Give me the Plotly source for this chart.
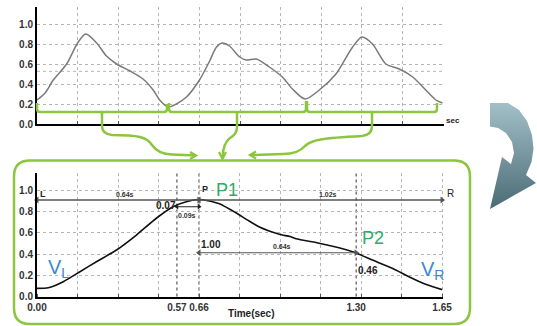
import plotly.graph_objects as go

W, H = 537, 326

# ---------------- data ----------------
# overview pulse trace (x in grid divisions, y normalised amplitude)
top_x = [0.0, 0.2, 0.4, 0.73, 1.0, 1.2, 1.47, 1.71, 1.96, 2.29, 2.61, 2.86, 3.02, 3.23,
         3.43, 3.68, 4.0, 4.25, 4.42, 4.56, 4.74, 4.99, 5.15, 5.4, 5.72, 6.04, 6.29, 6.6,
         6.95, 7.36, 7.77, 8.0, 8.26, 8.59, 8.92, 9.25, 9.57, 9.82, 9.98]
top_y = [0.24, 0.31, 0.44, 0.60, 0.81, 0.90, 0.81, 0.68, 0.60, 0.53, 0.45, 0.34, 0.24, 0.17,
         0.20, 0.27, 0.44, 0.63, 0.77, 0.81, 0.78, 0.67, 0.64, 0.65, 0.57, 0.47, 0.35, 0.25,
         0.34, 0.50, 0.77, 0.87, 0.80, 0.60, 0.55, 0.47, 0.34, 0.24, 0.21]
top_extra_grid = [0.527]

# single beat (time in seconds, normalised amplitude)
beat_t = [0.0, 0.046, 0.107, 0.175, 0.242, 0.324, 0.405, 0.486, 0.554, 0.608, 0.655, 0.675,
          0.743, 0.81, 0.858, 0.906, 0.987, 1.03, 1.055, 1.149, 1.23, 1.292, 1.366, 1.447,
          1.515, 1.583, 1.65]
beat_y = [0.077, 0.083, 0.14, 0.234, 0.328, 0.439, 0.58, 0.738, 0.847, 0.894, 0.915, 0.913,
          0.875, 0.79, 0.72, 0.655, 0.587, 0.565, 0.545, 0.502, 0.46, 0.417, 0.344, 0.266,
          0.187, 0.115, 0.065]

beat_tickvals = [0.00, 0.57, 0.66, 1.30, 1.65]
beat_ticktext = ["0.00", "0.57", "0.66", "1.30", "1.65"]
marker_times = [0.57, 0.66, 1.30]
y_tickvals = [0.0, 0.2, 0.4, 0.6, 0.8, 1.0]
y_ticktext = ["0.0", "0.2", "0.4", "0.6", "0.8", "1.0"]

t_L, t_57, t_P, t_P2, t_R = 0.0, 0.57, 0.66, 1.30, 1.65
y_LR = 0.91      # level of L-P-R measurement line
y_57 = 0.847     # level of 0.57 -> 0.66 measurement
y_P2 = 0.413     # level of P -> P2 measurement

FONT = "Arial, Liberation Sans, sans-serif"
GREEN = "#8cc63f"
GRID = "#b5b5b5"

fig = go.Figure()

def px_x(p):
    return p / W

def px_y(p):
    return 1 - p / H

axis_common = dict(showline=True, linecolor="black", linewidth=2, zeroline=False,
                   automargin=False, fixedrange=True)

fig.update_layout(
    width=W, height=H, margin=dict(l=0, r=0, t=0, b=0, pad=0),
    paper_bgcolor="white", plot_bgcolor="rgba(0,0,0,0)", showlegend=False,
    font=dict(family=FONT, color="#222"),
    xaxis=dict(domain=[px_x(37), px_x(444)], range=[0, 10.02], anchor="y",
               showgrid=True, gridcolor=GRID, griddash="dot", gridwidth=1,
               dtick=1, tick0=0, showticklabels=False, ticks="inside", ticklen=3,
               tickcolor="#555", **axis_common),
    yaxis=dict(domain=[px_y(124), px_y(7)], range=[0, 1.17], anchor="x",
               showgrid=True, gridcolor=GRID, griddash="dot", gridwidth=1,
               tickvals=y_tickvals, ticktext=y_ticktext, ticks="",
               tickfont=dict(size=10, family=FONT, color="#333", weight="bold"),
               **axis_common),
    xaxis2=dict(domain=[px_x(37), px_x(443.3)], range=[0, 1.655], anchor="y2",
                showgrid=False, tickvals=beat_tickvals, ticktext=beat_ticktext,
                ticks="", tickfont=dict(size=10, family=FONT, color="#333", weight="bold"),
                minor=dict(tick0=0, dtick=0.165, showgrid=True, gridcolor=GRID,
                           griddash="dot", gridwidth=1, ticks="inside", ticklen=3,
                           tickcolor="#555"),
                **axis_common),
    yaxis2=dict(domain=[px_y(296.5), px_y(173.3)], range=[0, 1.162], anchor="x2",
                showgrid=True, gridcolor=GRID, griddash="dot", gridwidth=1,
                tickvals=y_tickvals, ticktext=y_ticktext, ticks="",
                tickfont=dict(size=10, family=FONT, color="#333", weight="bold"),
                **axis_common),
    xaxis3=dict(domain=[0, 1], range=[0, W], anchor="y3", visible=False, fixedrange=True),
    yaxis3=dict(domain=[0, 1], range=[H, 0], anchor="x3", visible=False, fixedrange=True),
)

# ---------------- data traces ----------------
fig.add_trace(go.Scatter(x=top_x, y=top_y, mode="lines", xaxis="x", yaxis="y",
                         line=dict(color="#7a7a7a", width=1.5, shape="spline", smoothing=0.8),
                         hoverinfo="skip"))
fig.add_trace(go.Scatter(x=beat_t, y=beat_y, mode="lines", xaxis="x2", yaxis="y2",
                         line=dict(color="#111", width=1.6, shape="spline", smoothing=0.6),
                         hoverinfo="skip"))

shapes = []
for g in top_extra_grid:
    shapes.append(dict(type="line", xref="x domain", yref="y", x0=0, x1=1, y0=g, y1=g,
                       line=dict(color=GRID, width=1, dash="dot"), layer="below"))
for t in marker_times:
    shapes.append(dict(type="line", xref="x2", yref="y2 domain", x0=t, x1=t, y0=0, y1=1,
                       line=dict(color="#333", width=1, dash="dot"), layer="below"))

# measurement arrows: line with triangle heads at both ends
def meas(x0, x1, y, color="#333", width=1.2, size=6):
    fig.add_trace(go.Scatter(x=[x0, x1], y=[y, y], xaxis="x2", yaxis="y2",
                             mode="lines+markers", cliponaxis=False,
                             line=dict(color=color, width=width),
                             marker=dict(symbol=["triangle-left", "triangle-right"],
                                         size=size, color=color, line=dict(width=0)),
                             hoverinfo="skip"))

meas(t_L, t_P, y_LR, "#555", 1.5)
meas(t_P, t_R, y_LR, "#555", 1.5)
meas(t_57, t_P, y_57, "#222", 1.1, 5)
meas(t_P, t_P2, y_P2, "#555", 1.1)

# ---------------- green decoration (pixel coordinates) ----------------
def gpath(d, width=2.5):
    shapes.append(dict(type="path", xref="x3", yref="y3", path=d,
                       line=dict(color=GREEN, width=width), fillcolor="rgba(0,0,0,0)"))

gpath("M 37,103 L 37,109 Q 37,112 40,112 L 164,112 Q 167,112 167,109 L 167,104")
gpath("M 169,103 L 169,109 Q 169,112 172,112 L 303,112 Q 306,112 306,109 L 306,101")
gpath("M 307,101 L 307,109 Q 307,112 310,112 L 434,112 Q 437,112 437,109 L 437,103")
gpath("M 102,112 L 102,126 Q 102,134 112,135 C 138,135 147,137 152,145 Q 158,154 172,154.5 L 196,155.5")
gpath("M 190,152 L 196,155.5 L 190,159", 2.2)
gpath("M 237,112 L 237,127 Q 237,134 230,138 Q 223,143 222.5,158")
gpath("M 219,152 L 222.5,159 L 226,152", 2.2)
gpath("M 372,112 L 372,126 Q 372,135 362,136 C 322,138 311,140 305,146 Q 298,154 283,154 L 250,155")
gpath("M 256,151.5 L 250,155 L 256,158.5", 2.2)
gpath("M 30,160.5 L 454,160.5 Q 470,160.5 470,176.5 L 470,308 Q 470,324 454,324 "
      "L 30,324 Q 14,324 14,308 L 14,176.5 Q 14,160.5 30,160.5 Z", 2.5)

# ---------------- big curved arrow (pixel coordinates) ----------------
arrow_x = [490, 508, 519, 527, 532, 533.5, 531.5, 526, 536, 490, 502, 511, 514, 512, 506, 498, 490, 490]
arrow_y = [103, 103, 110, 121, 135, 149, 162, 175, 183, 209, 157, 164, 153, 142, 133, 128, 126.5, 103]
fig.add_trace(go.Scatter(x=arrow_x, y=arrow_y, xaxis="x3", yaxis="y3", mode="lines",
                         fill="toself", line=dict(width=0, color="rgba(0,0,0,0)"),
                         fillgradient=dict(type="vertical", start=103, stop=209,
                                           colorscale=[[0, "#a3c0c8"], [1, "#4b6b75"]]),
                         hoverinfo="skip"))

# ---------------- text labels (pixel coordinates) ----------------
anns = []
def txt(x, y, s, size, color="#222", bold=False, xanchor="center"):
    anns.append(dict(xref="x3", yref="y3", x=x, y=y, text=s, showarrow=False,
                     xanchor=xanchor, yanchor="middle",
                     font=dict(size=size, color=color, family=FONT,
                               weight="bold" if bold else "normal")))

txt(453, 120, "sec", 8, "#222", True)
txt(43, 193.5, "L", 9, "#222", True)
txt(125, 194.5, "0.64s", 7, "#333", True)
txt(205, 189, "P", 9, "#222", True)
txt(227, 190, "P1", 18, "#2eab66")
txt(328, 194.5, "1.02s", 7, "#333", True)
txt(450, 193, "R", 10, "#222")
txt(166, 205.5, "0.07", 10, "#222", True)
txt(187, 215, "0.09s", 7, "#333", True)
txt(211, 244.5, "1.00", 10, "#222", True)
txt(282, 246.5, "0.64s", 7, "#333", True)
txt(373, 238, "P2", 18, "#2eab66")
txt(368, 270, "0.46", 10, "#222", True)
txt(58, 268, "V<sub>L</sub>", 20, "#3a8bd0")
txt(432, 270, "V<sub>R</sub>", 20, "#3a8bd0")
txt(251, 313.5, "Time(sec)", 10, "#222", True)

fig.update_layout(shapes=shapes, annotations=anns)
fig.write_html("out.html", config={"displayModeBar": False, "staticPlot": True},
               post_script="document.body.style.margin='0';document.body.style.overflow='hidden';")
